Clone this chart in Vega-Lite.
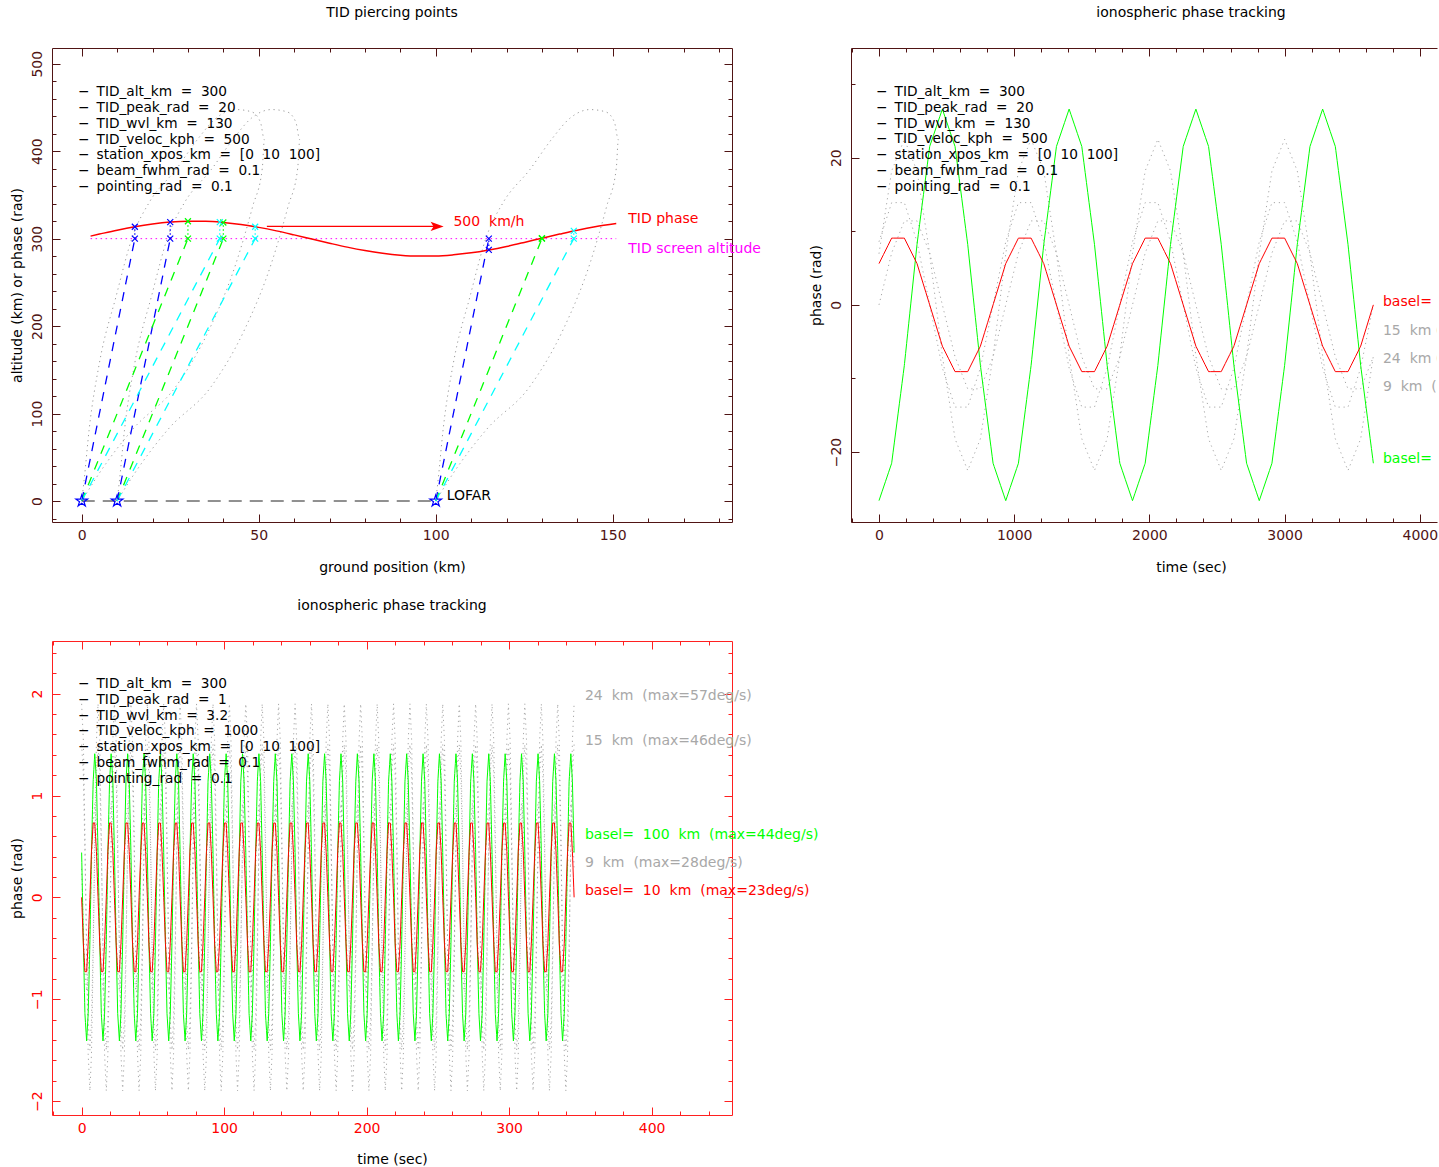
{
"$schema": "https://vega.github.io/schema/vega-lite/v6.json",
"padding": {"left": 10, "top": 5, "right": 0, "bottom": 0},
"background": "white",
"config": {
  "view": {"stroke": null},
  "font": "DejaVu Sans",
  "axis": {"grid": false, "labelFont": "DejaVu Sans", "labelFontSize": 14, "titleFont": "DejaVu Sans", "titleFontSize": 14, "titleFontWeight": "normal", "labelOverlap": false, "labelFlush": false, "tickWidth": 1, "domainWidth": 1, "labelBound": false},
  "title": {"font": "DejaVu Sans", "fontSize": 14, "fontWeight": "normal", "color": "#000000", "offset": 28, "baseline": "alphabetic", "anchor": "middle"},
  "text": {"font": "DejaVu Sans", "fontSize": 14}
},
"columns": 2,
"spacing": {"row": 119, "column": 119},
"bounds": "flush",
"resolve": {"scale": {"color": "independent", "strokeDash": "independent"}},
"concat": [
{
  "width": 680, "height": 474,
  "title": {"text": "TID piercing points"},
  "resolve": {"axis": {"x": "independent", "y": "independent"}},
  "layer": [
    {"data": {"values": [{}]}, "mark": {"type": "point", "opacity": 0},
     "encoding": {
       "x": {"datum": 0, "type": "quantitative", "scale": {"domain": [-8.4, 183.7], "nice": false, "zero": false},
             "axis": {"orient": "bottom", "values": [0,10,20,30,40,50,60,70,80,90,100,110,120,130,140,150,160,170,180], "domain": true, "domainColor": "#501414", "tickColor": "#501414", "tickSize": {"condition": {"test": "datum.value % 50 === 0", "value": -8}, "value": -4}, "labelExpr": "datum.value % 50 === 0 ? format(datum.value, 'd') : ''", "labelColor": "#501414", "labelPadding": 25, "labelBaseline": "alphabetic", "labelAlign": "center", "title": "ground position (km)", "titleColor": "#000000", "titleX": 340, "titleY": 49, "titleBaseline": "alphabetic", "titleAlign": "center"}},
       "y": {"datum": 0, "type": "quantitative", "scale": {"domain": [-24, 518], "nice": false, "zero": false},
             "axis": {"orient": "left", "values": [-20,0,20,40,60,80,100,120,140,160,180,200,220,240,260,280,300,320,340,360,380,400,420,440,460,480,500], "domain": true, "domainColor": "#501414", "tickColor": "#501414", "tickSize": {"condition": {"test": "datum.value % 100 === 0", "value": -8}, "value": -4}, "labelExpr": "datum.value % 100 === 0 ? format(datum.value, 'd') : ''", "labelColor": "#501414", "labelAngle": 270, "labelAlign": "center", "labelBaseline": "middle", "labelPadding": 23, "title": "altitude (km) or phase (rad)", "titleColor": "#000000", "titleX": -31, "titleY": 237, "titleAngle": 270, "titleBaseline": "alphabetic", "titleAlign": "center"}}
     }},
    {"data": {"values": [{}]}, "mark": {"type": "point", "opacity": 0},
     "encoding": {
       "x": {"datum": 0, "type": "quantitative",
             "axis": {"orient": "top", "values": [0,10,20,30,40,50,60,70,80,90,100,110,120,130,140,150,160,170,180], "domain": true, "domainColor": "#501414", "tickColor": "#501414", "tickSize": {"condition": {"test": "datum.value % 50 === 0", "value": -8}, "value": -4}, "labels": false, "title": null}},
       "y": {"datum": 0, "type": "quantitative",
             "axis": {"orient": "right", "values": [-20,0,20,40,60,80,100,120,140,160,180,200,220,240,260,280,300,320,340,360,380,400,420,440,460,480,500], "domain": true, "domainColor": "#501414", "tickColor": "#501414", "tickSize": {"condition": {"test": "datum.value % 100 === 0", "value": -8}, "value": -4}, "labels": false, "title": null}}
     }},
    {"data": {"values": "g,i,x,y\n0,0,0,0\n0,1,0.7,25\n0,2,2.1,82\n0,3,5,158\n0,4,9.7,234\n0,5,14.4,303\n0,6,19,341\n0,7,26.6,379\n0,8,33,415\n0,9,38,438\n0,10,43.6,447.6\n0,11,48,445\n0,12,50.5,433\n0,13,51.6,413\n0,14,51,380\n0,15,48.3,337\n0,16,43.6,272\n0,17,36,196\n0,18,26.6,131\n0,19,14.4,82\n0,20,5,32\n0,21,0,0\n10,0,10,0\n10,1,10.7,25\n10,2,12.1,82\n10,3,15,158\n10,4,19.7,234\n10,5,24.4,303\n10,6,29,341\n10,7,36.6,379\n10,8,43,415\n10,9,48,438\n10,10,53.6,447.6\n10,11,58,445\n10,12,60.5,433\n10,13,61.6,413\n10,14,61,380\n10,15,58.3,337\n10,16,53.6,272\n10,17,46,196\n10,18,36.6,131\n10,19,24.4,82\n10,20,15,32\n10,21,10,0\n100,0,100,0\n100,1,100.7,25\n100,2,102.1,82\n100,3,105,158\n100,4,109.7,234\n100,5,114.4,303\n100,6,119,341\n100,7,126.6,379\n100,8,133,415\n100,9,138,438\n100,10,143.6,447.6\n100,11,148,445\n100,12,150.5,433\n100,13,151.6,413\n100,14,151,380\n100,15,148.3,337\n100,16,143.6,272\n100,17,136,196\n100,18,126.6,131\n100,19,114.4,82\n100,20,105,32\n100,21,100,0", "format": {"type": "csv", "parse": {"g": "number", "i": "number", "x": "number", "y": "number"}}},
     "mark": {"type": "line", "color": "#9a9a9a", "strokeWidth": 1, "strokeDash": [1.2, 3.8], "interpolate": "monotone"},
     "encoding": {"x": {"field": "x", "type": "quantitative", "axis": null}, "y": {"field": "y", "type": "quantitative", "axis": null}, "detail": {"field": "g", "type": "nominal"}, "order": {"field": "i", "type": "quantitative"}}},
    {"data": {"values": "id,c,x,y\nb0,b,0,0\nb0,b,15,300\nb1,b,10,0\nb1,b,25,300\nb2,b,100,0\nb2,b,115,300\ng0,g,0,0\ng0,g,30,300\ng1,g,10,0\ng1,g,40,300\ng2,g,100,0\ng2,g,130,300\nc0,c,0,0\nc0,c,39,300\nc1,c,10,0\nc1,c,49,300\nc2,c,100,0\nc2,c,139,300", "format": {"type": "csv", "parse": {"x": "number", "y": "number"}}},
     "mark": {"type": "line", "strokeWidth": 1.3, "strokeDash": [9, 8]},
     "encoding": {"x": {"field": "x", "type": "quantitative", "axis": null}, "y": {"field": "y", "type": "quantitative", "axis": null}, "detail": {"field": "id", "type": "nominal"}, "color": {"field": "c", "type": "nominal", "scale": {"domain": ["b", "g", "c"], "range": ["#0000ff", "#00ff00", "#00ffff"]}, "legend": null}}},
    {"data": {"values": "id,c,x,y\nb0,b,15,300\nb0,b,15,313.6\nb1,b,25,300\nb1,b,25,318.9\nb2,b,115,300\nb2,b,115,287.1\ng0,g,30,300\ng0,g,30,319.9\ng1,g,40,300\ng1,g,40,318.5\nc0,c,39,300\nc0,c,39,318.9\nc1,c,49,300\nc1,c,49,313.6\nc2,c,139,300\nc2,c,139,308.9", "format": {"type": "csv", "parse": {"x": "number", "y": "number"}}},
     "mark": {"type": "line", "strokeWidth": 1.2, "strokeDash": [1.5, 2.5]},
     "encoding": {"x": {"field": "x", "type": "quantitative", "axis": null}, "y": {"field": "y", "type": "quantitative", "axis": null}, "detail": {"field": "id", "type": "nominal"}, "order": {"field": "y", "type": "quantitative"}, "color": {"field": "c", "type": "nominal", "scale": {"domain": ["b", "g", "c"], "range": ["#0000ff", "#00ff00", "#00ffff"]}, "legend": null}}},
    {"data": {"values": [{"x": 0, "y": 0}, {"x": 100, "y": 0}]},
     "mark": {"type": "line", "color": "#222222", "strokeWidth": 1, "strokeDash": [13, 8]},
     "encoding": {"x": {"field": "x", "type": "quantitative", "axis": null}, "y": {"field": "y", "type": "quantitative", "axis": null}}},
    {"data": {"values": [{"x": 2.5, "y": 300}, {"x": 151, "y": 300}]},
     "mark": {"type": "line", "color": "#ff00ff", "strokeWidth": 1, "strokeDash": [1.5, 3.5]},
     "encoding": {"x": {"field": "x", "type": "quantitative", "axis": null}, "y": {"field": "y", "type": "quantitative", "axis": null}}},
    {"data": {"values": "x,y\n2.5,302.9\n5,305.2\n10,309.7\n15,313.6\n20,316.7\n25,318.9\n30,319.9\n35,319.8\n40,318.5\n45,316.2\n50,312.9\n55,308.9\n60,304.3\n65,299.5\n70,294.8\n75,290.3\n80,286.4\n85,283.3\n90,281.1\n95,280.1\n100,280.2\n105,281.5\n110,283.8\n115,287.1\n120,291.1\n125,295.7\n130,300.5\n135,305.2\n140,309.7\n145,313.6\n151,317.2", "format": {"type": "csv", "parse": {"x": "number", "y": "number"}}},
     "mark": {"type": "line", "color": "#ff0000", "strokeWidth": 1.5, "interpolate": "monotone"},
     "encoding": {"x": {"field": "x", "type": "quantitative", "axis": null}, "y": {"field": "y", "type": "quantitative", "axis": null}}},
    {"data": {"values": [{"x": 52.3, "y": 314}, {"x": 99.5, "y": 314}]},
     "mark": {"type": "line", "color": "#ff0000", "strokeWidth": 1.3},
     "encoding": {"x": {"field": "x", "type": "quantitative", "axis": null}, "y": {"field": "y", "type": "quantitative", "axis": null}}},
    {"data": {"values": [{"x": 100.4, "y": 314}]},
     "mark": {"type": "point", "shape": "M1,0L-1,-0.7L-0.55,0L-1,0.7Z", "filled": true, "color": "#ff0000", "size": 170, "opacity": 1},
     "encoding": {"x": {"field": "x", "type": "quantitative", "axis": null}, "y": {"field": "y", "type": "quantitative", "axis": null}}},
    {"data": {"values": "c,x,y\nb,15,300\nb,15,313.6\nb,25,300\nb,25,318.9\nb,115,300\nb,115,287.1\ng,30,300\ng,30,319.9\ng,40,300\ng,40,318.5\ng,130,300\ng,130,300.5\nc,39,300\nc,39,318.9\nc,49,300\nc,49,313.6\nc,139,300\nc,139,308.9", "format": {"type": "csv", "parse": {"x": "number", "y": "number"}}},
     "mark": {"type": "point", "shape": "M-1,-1L1,1M-1,1L1,-1", "filled": false, "size": 36, "strokeWidth": 1.2, "opacity": 1},
     "encoding": {"x": {"field": "x", "type": "quantitative", "axis": null}, "y": {"field": "y", "type": "quantitative", "axis": null}, "color": {"field": "c", "type": "nominal", "scale": {"domain": ["b", "g", "c"], "range": ["#0000ff", "#00ff00", "#00ffff"]}, "legend": null}}},
    {"data": {"values": [{"x": 0, "y": 0}, {"x": 10, "y": 0}, {"x": 100, "y": 0}]},
     "mark": {"type": "point", "shape": "M0,-1L0.224,-0.309L0.951,-0.309L0.363,0.118L0.588,0.809L0,0.382L-0.588,0.809L-0.363,0.118L-0.951,-0.309L-0.224,-0.309Z", "filled": false, "color": "#0000ff", "size": 150, "strokeWidth": 1.2, "opacity": 1},
     "encoding": {"x": {"field": "x", "type": "quantitative", "axis": null}, "y": {"field": "y", "type": "quantitative", "axis": null}}},
    {"data": {"values": [{}]}, "mark": {"type": "text", "text": "TID phase", "color": "#ff0000", "align": "left", "baseline": "middle", "fontSize": 14},
     "encoding": {"x": {"datum": 154.4, "type": "quantitative", "axis": null}, "y": {"datum": 322, "type": "quantitative", "axis": null}}},
    {"data": {"values": [{}]}, "mark": {"type": "text", "text": "TID screen altitude", "color": "#ff00ff", "align": "left", "baseline": "middle", "fontSize": 14},
     "encoding": {"x": {"datum": 154.4, "type": "quantitative", "axis": null}, "y": {"datum": 287.6, "type": "quantitative", "axis": null}}},
    {"data": {"values": [{}]}, "mark": {"type": "text", "text": "500\u00a0\u00a0km/h", "color": "#ff0000", "align": "left", "baseline": "middle", "fontSize": 14},
     "encoding": {"x": {"datum": 105, "type": "quantitative", "axis": null}, "y": {"datum": 319.2, "type": "quantitative", "axis": null}}},
    {"data": {"values": [{}]}, "mark": {"type": "text", "text": "LOFAR", "color": "#000000", "align": "left", "baseline": "middle", "fontSize": 14},
     "encoding": {"x": {"datum": 103.1, "type": "quantitative", "axis": null}, "y": {"datum": 5.7, "type": "quantitative", "axis": null}}},
    {"data": {"values": [{}]}, "mark": {"type": "text", "text": ["−\u00a0\u2009TID_alt_km\u00a0\u00a0=\u00a0\u00a0300", "−\u00a0\u2009TID_peak_rad\u00a0\u00a0=\u00a0\u00a020", "−\u00a0\u2009TID_wvl_km\u00a0\u00a0=\u00a0\u00a0130", "−\u00a0\u2009TID_veloc_kph\u00a0\u00a0=\u00a0\u00a0500", "−\u00a0\u2009station_xpos_km\u00a0\u00a0=\u00a0\u00a0[0\u00a0\u00a010\u00a0\u00a0100]", "−\u00a0\u2009beam_fwhm_rad\u00a0\u00a0=\u00a0\u00a00.1", "−\u00a0\u2009pointing_rad\u00a0\u00a0=\u00a0\u00a00.1"], "color": "#000000", "align": "left", "baseline": "alphabetic", "fontSize": 13.7, "lineHeight": 15.8},
     "encoding": {"x": {"datum": -1.05, "type": "quantitative", "axis": null}, "y": {"datum": 462.9, "type": "quantitative", "axis": null}}}
  ]
},
{
  "width": 586, "height": 474,
  "title": {"text": "ionospheric phase tracking", "dx": 47},
  "resolve": {"axis": {"x": "independent", "y": "independent"}},
  "layer": [
    {"data": {"values": [{}]}, "mark": {"type": "point", "opacity": 0},
     "encoding": {
       "x": {"datum": 0, "type": "quantitative", "scale": {"domain": [-207, 4127], "nice": false, "zero": false},
             "axis": {"orient": "bottom", "values": [-200,0,200,400,600,800,1000,1200,1400,1600,1800,2000,2200,2400,2600,2800,3000,3200,3400,3600,3800,4000], "domain": true, "domainColor": "#501414", "tickColor": "#501414", "tickSize": {"condition": {"test": "datum.value % 1000 === 0", "value": -8}, "value": -4}, "labelExpr": "datum.value % 1000 === 0 ? format(datum.value, 'd') : ''", "labelColor": "#501414", "labelPadding": 25, "labelBaseline": "alphabetic", "labelAlign": "center", "title": "time (sec)", "titleColor": "#000000", "titleX": 340, "titleY": 49, "titleBaseline": "alphabetic", "titleAlign": "center"}},
       "y": {"datum": 0, "type": "quantitative", "scale": {"domain": [-29.5, 34.9], "nice": false, "zero": false},
             "axis": {"orient": "left", "values": [-20,-10,0,10,20,30], "domain": true, "domainColor": "#501414", "tickColor": "#501414", "tickSize": {"condition": {"test": "datum.value % 20 === 0", "value": -8}, "value": -4}, "labelExpr": "datum.value % 20 === 0 ? format(datum.value, 'd') : ''", "labelColor": "#501414", "labelAngle": 270, "labelAlign": "center", "labelBaseline": "middle", "labelPadding": 23, "title": "phase (rad)", "titleColor": "#000000", "titleX": -31, "titleY": 237, "titleAngle": 270, "titleBaseline": "alphabetic", "titleAlign": "center"}}
     }},
    {"data": {"values": [{}]}, "mark": {"type": "point", "opacity": 0},
     "encoding": {
       "x": {"datum": 0, "type": "quantitative",
             "axis": {"orient": "top", "values": [-200,0,200,400,600,800,1000,1200,1400,1600,1800,2000,2200,2400,2600,2800,3000,3200,3400,3600,3800,4000], "domain": true, "domainColor": "#501414", "tickColor": "#501414", "tickSize": {"condition": {"test": "datum.value % 1000 === 0", "value": -8}, "value": -4}, "labels": false, "title": null}}
     }},
    {"data": {"values": "t,r,g,a,b,c\n0,5.61,-26.6,6.95,8.58,0\n93.75,9.07,-21.52,18.2,13.89,7.05\n187.5,9.07,-8.22,22.5,13.89,11.41\n281.25,5.61,8.22,18.2,8.58,11.41\n375,0,21.52,6.95,0,7.05\n468.75,-5.61,26.6,-6.95,-8.58,0\n562.5,-9.07,21.52,-18.2,-13.89,-7.05\n656.25,-9.07,8.22,-22.5,-13.89,-11.41\n750,-5.61,-8.22,-18.2,-8.58,-11.41\n843.75,0,-21.52,-6.95,0,-7.05\n937.5,5.61,-26.6,6.95,8.58,0\n1031.25,9.07,-21.52,18.2,13.89,7.05\n1125,9.07,-8.22,22.5,13.89,11.41\n1218.75,5.61,8.22,18.2,8.58,11.41\n1312.5,0,21.52,6.95,0,7.05\n1406.25,-5.61,26.6,-6.95,-8.58,0\n1500,-9.07,21.52,-18.2,-13.89,-7.05\n1593.75,-9.07,8.22,-22.5,-13.89,-11.41\n1687.5,-5.61,-8.22,-18.2,-8.58,-11.41\n1781.25,0,-21.52,-6.95,0,-7.05\n1875,5.61,-26.6,6.95,8.58,0\n1968.75,9.07,-21.52,18.2,13.89,7.05\n2062.5,9.07,-8.22,22.5,13.89,11.41\n2156.25,5.61,8.22,18.2,8.58,11.41\n2250,0,21.52,6.95,0,7.05\n2343.75,-5.61,26.6,-6.95,-8.58,0\n2437.5,-9.07,21.52,-18.2,-13.89,-7.05\n2531.25,-9.07,8.22,-22.5,-13.89,-11.41\n2625,-5.61,-8.22,-18.2,-8.58,-11.41\n2718.75,0,-21.52,-6.95,0,-7.05\n2812.5,5.61,-26.6,6.95,8.58,0\n2906.25,9.07,-21.52,18.2,13.89,7.05\n3000,9.07,-8.22,22.5,13.89,11.41\n3093.75,5.61,8.22,18.2,8.58,11.41\n3187.5,0,21.52,6.95,0,7.05\n3281.25,-5.61,26.6,-6.95,-8.58,0\n3375,-9.07,21.52,-18.2,-13.89,-7.05\n3468.75,-9.07,8.22,-22.5,-13.89,-11.41\n3562.5,-5.61,-8.22,-18.2,-8.58,-11.41\n3656.25,0,-21.52,-6.95,0,-7.05", "format": {"type": "csv", "parse": {"t": "number", "r": "number", "g": "number", "a": "number", "b": "number", "c": "number"}}},
     "transform": [{"fold": ["a", "b", "c", "g", "r"], "as": ["s", "v"]}],
     "mark": {"type": "line", "strokeWidth": 1, "clip": true},
     "encoding": {"x": {"field": "t", "type": "quantitative", "axis": null}, "y": {"field": "v", "type": "quantitative", "axis": null},
       "color": {"field": "s", "type": "nominal", "scale": {"domain": ["a", "b", "c", "g", "r"], "range": ["#a8a8a8", "#a8a8a8", "#a8a8a8", "#00ff00", "#ff0000"]}, "legend": null},
       "strokeDash": {"field": "s", "type": "nominal", "scale": {"domain": ["a", "b", "c", "g", "r"], "range": [[1.2, 3.8], [1.2, 3.8], [1.2, 3.8], [10, 0], [10, 0]]}, "legend": null}}},
    {"data": {"values": [{"s": "r", "label": "basel=\u00a0\u00a010\u00a0\u00a0km\u00a0\u00a0(max=4deg/s)", "v": 0.41}, {"s": "b", "label": "15\u00a0\u00a0km\u00a0(max=5deg/s)", "v": -3.53}, {"s": "a", "label": "24\u00a0\u00a0km\u00a0(max=8deg/s)", "v": -7.33}, {"s": "c", "label": "9\u00a0\u00a0km\u00a0\u00a0(max=4deg/s)", "v": -11.13}, {"s": "g", "label": "basel=\u00a0\u00a0100\u00a0\u00a0km\u00a0\u00a0(max=10deg/s)", "v": -20.9}]},
     "mark": {"type": "text", "align": "left", "baseline": "middle", "fontSize": 14, "clip": true},
     "encoding": {"x": {"datum": 3727, "type": "quantitative", "axis": null}, "y": {"field": "v", "type": "quantitative", "axis": null}, "text": {"field": "label"},
       "color": {"field": "s", "type": "nominal", "scale": {"domain": ["a", "b", "c", "g", "r"], "range": ["#a8a8a8", "#a8a8a8", "#a8a8a8", "#00ff00", "#ff0000"]}, "legend": null}}},
    {"data": {"values": [{}]}, "mark": {"type": "text", "text": ["−\u00a0\u2009TID_alt_km\u00a0\u00a0=\u00a0\u00a0300", "−\u00a0\u2009TID_peak_rad\u00a0\u00a0=\u00a0\u00a020", "−\u00a0\u2009TID_wvl_km\u00a0\u00a0=\u00a0\u00a0130", "−\u00a0\u2009TID_veloc_kph\u00a0\u00a0=\u00a0\u00a0500", "−\u00a0\u2009station_xpos_km\u00a0\u00a0=\u00a0\u00a0[0\u00a0\u00a010\u00a0\u00a0100]", "−\u00a0\u2009beam_fwhm_rad\u00a0\u00a0=\u00a0\u00a00.1", "−\u00a0\u2009pointing_rad\u00a0\u00a0=\u00a0\u00a00.1"], "color": "#000000", "align": "left", "baseline": "alphabetic", "fontSize": 13.7, "lineHeight": 15.8},
     "encoding": {"x": {"datum": -22, "type": "quantitative", "axis": null}, "y": {"datum": 28.38, "type": "quantitative", "axis": null}}}
  ]
},
{
  "width": 680, "height": 474,
  "title": {"text": "ionospheric phase tracking"},
  "resolve": {"axis": {"x": "independent", "y": "independent"}},
  "layer": [
    {"data": {"values": [{}]}, "mark": {"type": "point", "opacity": 0},
     "encoding": {
       "x": {"datum": 0, "type": "quantitative", "scale": {"domain": [-20.8, 456.4], "nice": false, "zero": false},
             "axis": {"orient": "bottom", "values": [-20,0,20,40,60,80,100,120,140,160,180,200,220,240,260,280,300,320,340,360,380,400,420,440], "domain": true, "domainColor": "#ff2020", "tickColor": "#ff2020", "tickSize": {"condition": {"test": "datum.value % 100 === 0", "value": -8}, "value": -4}, "labelExpr": "datum.value % 100 === 0 ? format(datum.value, 'd') : ''", "labelColor": "#ff0000", "labelPadding": 25, "labelBaseline": "alphabetic", "labelAlign": "center", "title": "time (sec)", "titleColor": "#000000", "titleX": 340, "titleY": 48, "titleBaseline": "alphabetic", "titleAlign": "center"}},
       "y": {"datum": 0, "type": "quantitative", "scale": {"domain": [-2.137, 2.517], "nice": false, "zero": false},
             "axis": {"orient": "left", "values": [-2,-1.8,-1.6,-1.4,-1.2,-1,-0.8,-0.6,-0.4,-0.2,0,0.2,0.4,0.6,0.8,1,1.2,1.4,1.6,1.8,2,2.2,2.4], "domain": true, "domainColor": "#ff2020", "tickColor": "#ff2020", "tickSize": {"condition": {"test": "abs(datum.value - round(datum.value)) < 0.001", "value": -8}, "value": -4}, "labelExpr": "abs(datum.value - round(datum.value)) < 0.001 ? format(round(datum.value), 'd') : ''", "labelColor": "#ff0000", "labelAngle": 270, "labelAlign": "center", "labelBaseline": "middle", "labelPadding": 23, "title": "phase (rad)", "titleColor": "#000000", "titleX": -31, "titleY": 237, "titleAngle": 270, "titleBaseline": "alphabetic", "titleAlign": "center"}}
     }},
    {"data": {"values": [{}]}, "mark": {"type": "point", "opacity": 0},
     "encoding": {
       "x": {"datum": 0, "type": "quantitative",
             "axis": {"orient": "top", "values": [-20,0,20,40,60,80,100,120,140,160,180,200,220,240,260,280,300,320,340,360,380,400,420,440], "domain": true, "domainColor": "#ff2020", "tickColor": "#ff2020", "tickSize": {"condition": {"test": "datum.value % 100 === 0", "value": -8}, "value": -4}, "labels": false, "title": null}},
       "y": {"datum": 0, "type": "quantitative",
             "axis": {"orient": "right", "values": [-2,-1.8,-1.6,-1.4,-1.2,-1,-0.8,-0.6,-0.4,-0.2,0,0.2,0.4,0.6,0.8,1,1.2,1.4,1.6,1.8,2,2.2,2.4], "domain": true, "domainColor": "#ff2020", "tickColor": "#ff2020", "tickSize": {"condition": {"test": "abs(datum.value - round(datum.value)) < 0.001", "value": -8}, "value": -4}, "labels": false, "title": null}}
     }},
    {"data": {"values": "t,r,g,a,b,c\n0,0,0.44,1.9,1.5,0.28\n1.2,-0.45,-0.44,1.54,1.21,-0.28\n2.3,-0.73,-1.14,0.59,0.46,-0.74\n3.5,-0.73,-1.41,-0.59,-0.46,-0.92\n4.6,-0.45,-1.14,-1.54,-1.21,-0.74\n5.8,0,-0.44,-1.9,-1.5,-0.28\n6.9,0.45,0.44,-1.54,-1.21,0.28\n8.1,0.73,1.14,-0.59,-0.46,0.74\n9.2,0.73,1.41,0.59,0.46,0.92\n10.4,0.45,1.14,1.54,1.21,0.74\n11.5,0,0.44,1.9,1.5,0.28\n12.7,-0.45,-0.44,1.54,1.21,-0.28\n13.8,-0.73,-1.14,0.59,0.46,-0.74\n15,-0.73,-1.41,-0.59,-0.46,-0.92\n16.1,-0.45,-1.14,-1.54,-1.21,-0.74\n17.3,0,-0.44,-1.9,-1.5,-0.28\n18.4,0.45,0.44,-1.54,-1.21,0.28\n19.6,0.73,1.14,-0.59,-0.46,0.74\n20.7,0.73,1.41,0.59,0.46,0.92\n21.9,0.45,1.14,1.54,1.21,0.74\n23,0,0.44,1.9,1.5,0.28\n24.2,-0.45,-0.44,1.54,1.21,-0.28\n25.3,-0.73,-1.14,0.59,0.46,-0.74\n26.5,-0.73,-1.41,-0.59,-0.46,-0.92\n27.6,-0.45,-1.14,-1.54,-1.21,-0.74\n28.8,0,-0.44,-1.9,-1.5,-0.28\n30,0.45,0.44,-1.54,-1.21,0.28\n31.1,0.73,1.14,-0.59,-0.46,0.74\n32.3,0.73,1.41,0.59,0.46,0.92\n33.4,0.45,1.14,1.54,1.21,0.74\n34.6,0,0.44,1.9,1.5,0.28\n35.7,-0.45,-0.44,1.54,1.21,-0.28\n36.9,-0.73,-1.14,0.59,0.46,-0.74\n38,-0.73,-1.41,-0.59,-0.46,-0.92\n39.2,-0.45,-1.14,-1.54,-1.21,-0.74\n40.3,0,-0.44,-1.9,-1.5,-0.28\n41.5,0.45,0.44,-1.54,-1.21,0.28\n42.6,0.73,1.14,-0.59,-0.46,0.74\n43.8,0.73,1.41,0.59,0.46,0.92\n44.9,0.45,1.14,1.54,1.21,0.74\n46.1,0,0.44,1.9,1.5,0.28\n47.2,-0.45,-0.44,1.54,1.21,-0.28\n48.4,-0.73,-1.14,0.59,0.46,-0.74\n49.5,-0.73,-1.41,-0.59,-0.46,-0.92\n50.7,-0.45,-1.14,-1.54,-1.21,-0.74\n51.8,0,-0.44,-1.9,-1.5,-0.28\n53,0.45,0.44,-1.54,-1.21,0.28\n54.1,0.73,1.14,-0.59,-0.46,0.74\n55.3,0.73,1.41,0.59,0.46,0.92\n56.4,0.45,1.14,1.54,1.21,0.74\n57.6,0,0.44,1.9,1.5,0.28\n58.8,-0.45,-0.44,1.54,1.21,-0.28\n59.9,-0.73,-1.14,0.59,0.46,-0.74\n61.1,-0.73,-1.41,-0.59,-0.46,-0.92\n62.2,-0.45,-1.14,-1.54,-1.21,-0.74\n63.4,0,-0.44,-1.9,-1.5,-0.28\n64.5,0.45,0.44,-1.54,-1.21,0.28\n65.7,0.73,1.14,-0.59,-0.46,0.74\n66.8,0.73,1.41,0.59,0.46,0.92\n68,0.45,1.14,1.54,1.21,0.74\n69.1,0,0.44,1.9,1.5,0.28\n70.3,-0.45,-0.44,1.54,1.21,-0.28\n71.4,-0.73,-1.14,0.59,0.46,-0.74\n72.6,-0.73,-1.41,-0.59,-0.46,-0.92\n73.7,-0.45,-1.14,-1.54,-1.21,-0.74\n74.9,0,-0.44,-1.9,-1.5,-0.28\n76,0.45,0.44,-1.54,-1.21,0.28\n77.2,0.73,1.14,-0.59,-0.46,0.74\n78.3,0.73,1.41,0.59,0.46,0.92\n79.5,0.45,1.14,1.54,1.21,0.74\n80.6,0,0.44,1.9,1.5,0.28\n81.8,-0.45,-0.44,1.54,1.21,-0.28\n82.9,-0.73,-1.14,0.59,0.46,-0.74\n84.1,-0.73,-1.41,-0.59,-0.46,-0.92\n85.2,-0.45,-1.14,-1.54,-1.21,-0.74\n86.4,0,-0.44,-1.9,-1.5,-0.28\n87.6,0.45,0.44,-1.54,-1.21,0.28\n88.7,0.73,1.14,-0.59,-0.46,0.74\n89.9,0.73,1.41,0.59,0.46,0.92\n91,0.45,1.14,1.54,1.21,0.74\n92.2,0,0.44,1.9,1.5,0.28\n93.3,-0.45,-0.44,1.54,1.21,-0.28\n94.5,-0.73,-1.14,0.59,0.46,-0.74\n95.6,-0.73,-1.41,-0.59,-0.46,-0.92\n96.8,-0.45,-1.14,-1.54,-1.21,-0.74\n97.9,0,-0.44,-1.9,-1.5,-0.28\n99.1,0.45,0.44,-1.54,-1.21,0.28\n100.2,0.73,1.14,-0.59,-0.46,0.74\n101.4,0.73,1.41,0.59,0.46,0.92\n102.5,0.45,1.14,1.54,1.21,0.74\n103.7,0,0.44,1.9,1.5,0.28\n104.8,-0.45,-0.44,1.54,1.21,-0.28\n106,-0.73,-1.14,0.59,0.46,-0.74\n107.1,-0.73,-1.41,-0.59,-0.46,-0.92\n108.3,-0.45,-1.14,-1.54,-1.21,-0.74\n109.4,0,-0.44,-1.9,-1.5,-0.28\n110.6,0.45,0.44,-1.54,-1.21,0.28\n111.7,0.73,1.14,-0.59,-0.46,0.74\n112.9,0.73,1.41,0.59,0.46,0.92\n114,0.45,1.14,1.54,1.21,0.74\n115.2,0,0.44,1.9,1.5,0.28\n116.4,-0.45,-0.44,1.54,1.21,-0.28\n117.5,-0.73,-1.14,0.59,0.46,-0.74\n118.7,-0.73,-1.41,-0.59,-0.46,-0.92\n119.8,-0.45,-1.14,-1.54,-1.21,-0.74\n121,0,-0.44,-1.9,-1.5,-0.28\n122.1,0.45,0.44,-1.54,-1.21,0.28\n123.3,0.73,1.14,-0.59,-0.46,0.74\n124.4,0.73,1.41,0.59,0.46,0.92\n125.6,0.45,1.14,1.54,1.21,0.74\n126.7,0,0.44,1.9,1.5,0.28\n127.9,-0.45,-0.44,1.54,1.21,-0.28\n129,-0.73,-1.14,0.59,0.46,-0.74\n130.2,-0.73,-1.41,-0.59,-0.46,-0.92\n131.3,-0.45,-1.14,-1.54,-1.21,-0.74\n132.5,0,-0.44,-1.9,-1.5,-0.28\n133.6,0.45,0.44,-1.54,-1.21,0.28\n134.8,0.73,1.14,-0.59,-0.46,0.74\n135.9,0.73,1.41,0.59,0.46,0.92\n137.1,0.45,1.14,1.54,1.21,0.74\n138.2,0,0.44,1.9,1.5,0.28\n139.4,-0.45,-0.44,1.54,1.21,-0.28\n140.5,-0.73,-1.14,0.59,0.46,-0.74\n141.7,-0.73,-1.41,-0.59,-0.46,-0.92\n142.8,-0.45,-1.14,-1.54,-1.21,-0.74\n144,0,-0.44,-1.9,-1.5,-0.28\n145.2,0.45,0.44,-1.54,-1.21,0.28\n146.3,0.73,1.14,-0.59,-0.46,0.74\n147.5,0.73,1.41,0.59,0.46,0.92\n148.6,0.45,1.14,1.54,1.21,0.74\n149.8,0,0.44,1.9,1.5,0.28\n150.9,-0.45,-0.44,1.54,1.21,-0.28\n152.1,-0.73,-1.14,0.59,0.46,-0.74\n153.2,-0.73,-1.41,-0.59,-0.46,-0.92\n154.4,-0.45,-1.14,-1.54,-1.21,-0.74\n155.5,0,-0.44,-1.9,-1.5,-0.28\n156.7,0.45,0.44,-1.54,-1.21,0.28\n157.8,0.73,1.14,-0.59,-0.46,0.74\n159,0.73,1.41,0.59,0.46,0.92\n160.1,0.45,1.14,1.54,1.21,0.74\n161.3,0,0.44,1.9,1.5,0.28\n162.4,-0.45,-0.44,1.54,1.21,-0.28\n163.6,-0.73,-1.14,0.59,0.46,-0.74\n164.7,-0.73,-1.41,-0.59,-0.46,-0.92\n165.9,-0.45,-1.14,-1.54,-1.21,-0.74\n167,0,-0.44,-1.9,-1.5,-0.28\n168.2,0.45,0.44,-1.54,-1.21,0.28\n169.3,0.73,1.14,-0.59,-0.46,0.74\n170.5,0.73,1.41,0.59,0.46,0.92\n171.6,0.45,1.14,1.54,1.21,0.74\n172.8,0,0.44,1.9,1.5,0.28\n174,-0.45,-0.44,1.54,1.21,-0.28\n175.1,-0.73,-1.14,0.59,0.46,-0.74\n176.3,-0.73,-1.41,-0.59,-0.46,-0.92\n177.4,-0.45,-1.14,-1.54,-1.21,-0.74\n178.6,0,-0.44,-1.9,-1.5,-0.28\n179.7,0.45,0.44,-1.54,-1.21,0.28\n180.9,0.73,1.14,-0.59,-0.46,0.74\n182,0.73,1.41,0.59,0.46,0.92\n183.2,0.45,1.14,1.54,1.21,0.74\n184.3,0,0.44,1.9,1.5,0.28\n185.5,-0.45,-0.44,1.54,1.21,-0.28\n186.6,-0.73,-1.14,0.59,0.46,-0.74\n187.8,-0.73,-1.41,-0.59,-0.46,-0.92\n188.9,-0.45,-1.14,-1.54,-1.21,-0.74\n190.1,0,-0.44,-1.9,-1.5,-0.28\n191.2,0.45,0.44,-1.54,-1.21,0.28\n192.4,0.73,1.14,-0.59,-0.46,0.74\n193.5,0.73,1.41,0.59,0.46,0.92\n194.7,0.45,1.14,1.54,1.21,0.74\n195.8,0,0.44,1.9,1.5,0.28\n197,-0.45,-0.44,1.54,1.21,-0.28\n198.1,-0.73,-1.14,0.59,0.46,-0.74\n199.3,-0.73,-1.41,-0.59,-0.46,-0.92\n200.4,-0.45,-1.14,-1.54,-1.21,-0.74\n201.6,0,-0.44,-1.9,-1.5,-0.28\n202.8,0.45,0.44,-1.54,-1.21,0.28\n203.9,0.73,1.14,-0.59,-0.46,0.74\n205.1,0.73,1.41,0.59,0.46,0.92\n206.2,0.45,1.14,1.54,1.21,0.74\n207.4,0,0.44,1.9,1.5,0.28\n208.5,-0.45,-0.44,1.54,1.21,-0.28\n209.7,-0.73,-1.14,0.59,0.46,-0.74\n210.8,-0.73,-1.41,-0.59,-0.46,-0.92\n212,-0.45,-1.14,-1.54,-1.21,-0.74\n213.1,0,-0.44,-1.9,-1.5,-0.28\n214.3,0.45,0.44,-1.54,-1.21,0.28\n215.4,0.73,1.14,-0.59,-0.46,0.74\n216.6,0.73,1.41,0.59,0.46,0.92\n217.7,0.45,1.14,1.54,1.21,0.74\n218.9,0,0.44,1.9,1.5,0.28\n220,-0.45,-0.44,1.54,1.21,-0.28\n221.2,-0.73,-1.14,0.59,0.46,-0.74\n222.3,-0.73,-1.41,-0.59,-0.46,-0.92\n223.5,-0.45,-1.14,-1.54,-1.21,-0.74\n224.6,0,-0.44,-1.9,-1.5,-0.28\n225.8,0.45,0.44,-1.54,-1.21,0.28\n226.9,0.73,1.14,-0.59,-0.46,0.74\n228.1,0.73,1.41,0.59,0.46,0.92\n229.2,0.45,1.14,1.54,1.21,0.74\n230.4,0,0.44,1.9,1.5,0.28\n231.6,-0.45,-0.44,1.54,1.21,-0.28\n232.7,-0.73,-1.14,0.59,0.46,-0.74\n233.9,-0.73,-1.41,-0.59,-0.46,-0.92\n235,-0.45,-1.14,-1.54,-1.21,-0.74\n236.2,0,-0.44,-1.9,-1.5,-0.28\n237.3,0.45,0.44,-1.54,-1.21,0.28\n238.5,0.73,1.14,-0.59,-0.46,0.74\n239.6,0.73,1.41,0.59,0.46,0.92\n240.8,0.45,1.14,1.54,1.21,0.74\n241.9,0,0.44,1.9,1.5,0.28\n243.1,-0.45,-0.44,1.54,1.21,-0.28\n244.2,-0.73,-1.14,0.59,0.46,-0.74\n245.4,-0.73,-1.41,-0.59,-0.46,-0.92\n246.5,-0.45,-1.14,-1.54,-1.21,-0.74\n247.7,0,-0.44,-1.9,-1.5,-0.28\n248.8,0.45,0.44,-1.54,-1.21,0.28\n250,0.73,1.14,-0.59,-0.46,0.74\n251.1,0.73,1.41,0.59,0.46,0.92\n252.3,0.45,1.14,1.54,1.21,0.74\n253.4,0,0.44,1.9,1.5,0.28\n254.6,-0.45,-0.44,1.54,1.21,-0.28\n255.7,-0.73,-1.14,0.59,0.46,-0.74\n256.9,-0.73,-1.41,-0.59,-0.46,-0.92\n258,-0.45,-1.14,-1.54,-1.21,-0.74\n259.2,0,-0.44,-1.9,-1.5,-0.28\n260.4,0.45,0.44,-1.54,-1.21,0.28\n261.5,0.73,1.14,-0.59,-0.46,0.74\n262.7,0.73,1.41,0.59,0.46,0.92\n263.8,0.45,1.14,1.54,1.21,0.74\n265,0,0.44,1.9,1.5,0.28\n266.1,-0.45,-0.44,1.54,1.21,-0.28\n267.3,-0.73,-1.14,0.59,0.46,-0.74\n268.4,-0.73,-1.41,-0.59,-0.46,-0.92\n269.6,-0.45,-1.14,-1.54,-1.21,-0.74\n270.7,0,-0.44,-1.9,-1.5,-0.28\n271.9,0.45,0.44,-1.54,-1.21,0.28\n273,0.73,1.14,-0.59,-0.46,0.74\n274.2,0.73,1.41,0.59,0.46,0.92\n275.3,0.45,1.14,1.54,1.21,0.74\n276.5,0,0.44,1.9,1.5,0.28\n277.6,-0.45,-0.44,1.54,1.21,-0.28\n278.8,-0.73,-1.14,0.59,0.46,-0.74\n279.9,-0.73,-1.41,-0.59,-0.46,-0.92\n281.1,-0.45,-1.14,-1.54,-1.21,-0.74\n282.2,0,-0.44,-1.9,-1.5,-0.28\n283.4,0.45,0.44,-1.54,-1.21,0.28\n284.5,0.73,1.14,-0.59,-0.46,0.74\n285.7,0.73,1.41,0.59,0.46,0.92\n286.8,0.45,1.14,1.54,1.21,0.74\n288,0,0.44,1.9,1.5,0.28\n289.2,-0.45,-0.44,1.54,1.21,-0.28\n290.3,-0.73,-1.14,0.59,0.46,-0.74\n291.5,-0.73,-1.41,-0.59,-0.46,-0.92\n292.6,-0.45,-1.14,-1.54,-1.21,-0.74\n293.8,0,-0.44,-1.9,-1.5,-0.28\n294.9,0.45,0.44,-1.54,-1.21,0.28\n296.1,0.73,1.14,-0.59,-0.46,0.74\n297.2,0.73,1.41,0.59,0.46,0.92\n298.4,0.45,1.14,1.54,1.21,0.74\n299.5,0,0.44,1.9,1.5,0.28\n300.7,-0.45,-0.44,1.54,1.21,-0.28\n301.8,-0.73,-1.14,0.59,0.46,-0.74\n303,-0.73,-1.41,-0.59,-0.46,-0.92\n304.1,-0.45,-1.14,-1.54,-1.21,-0.74\n305.3,0,-0.44,-1.9,-1.5,-0.28\n306.4,0.45,0.44,-1.54,-1.21,0.28\n307.6,0.73,1.14,-0.59,-0.46,0.74\n308.7,0.73,1.41,0.59,0.46,0.92\n309.9,0.45,1.14,1.54,1.21,0.74\n311,0,0.44,1.9,1.5,0.28\n312.2,-0.45,-0.44,1.54,1.21,-0.28\n313.3,-0.73,-1.14,0.59,0.46,-0.74\n314.5,-0.73,-1.41,-0.59,-0.46,-0.92\n315.6,-0.45,-1.14,-1.54,-1.21,-0.74\n316.8,0,-0.44,-1.9,-1.5,-0.28\n318,0.45,0.44,-1.54,-1.21,0.28\n319.1,0.73,1.14,-0.59,-0.46,0.74\n320.3,0.73,1.41,0.59,0.46,0.92\n321.4,0.45,1.14,1.54,1.21,0.74\n322.6,0,0.44,1.9,1.5,0.28\n323.7,-0.45,-0.44,1.54,1.21,-0.28\n324.9,-0.73,-1.14,0.59,0.46,-0.74\n326,-0.73,-1.41,-0.59,-0.46,-0.92\n327.2,-0.45,-1.14,-1.54,-1.21,-0.74\n328.3,0,-0.44,-1.9,-1.5,-0.28\n329.5,0.45,0.44,-1.54,-1.21,0.28\n330.6,0.73,1.14,-0.59,-0.46,0.74\n331.8,0.73,1.41,0.59,0.46,0.92\n332.9,0.45,1.14,1.54,1.21,0.74\n334.1,0,0.44,1.9,1.5,0.28\n335.2,-0.45,-0.44,1.54,1.21,-0.28\n336.4,-0.73,-1.14,0.59,0.46,-0.74\n337.5,-0.73,-1.41,-0.59,-0.46,-0.92\n338.7,-0.45,-1.14,-1.54,-1.21,-0.74\n339.8,0,-0.44,-1.9,-1.5,-0.28\n341,0.45,0.44,-1.54,-1.21,0.28\n342.1,0.73,1.14,-0.59,-0.46,0.74\n343.3,0.73,1.41,0.59,0.46,0.92\n344.4,0.45,1.14,1.54,1.21,0.74\n345.6,0,0.44,1.9,1.5,0.28", "format": {"type": "csv", "parse": {"t": "number", "r": "number", "g": "number", "a": "number", "b": "number", "c": "number"}}},
     "transform": [{"fold": ["a", "b", "c", "g", "r"], "as": ["s", "v"]}],
     "mark": {"type": "line", "strokeWidth": 1, "clip": true},
     "encoding": {"x": {"field": "t", "type": "quantitative", "axis": null}, "y": {"field": "v", "type": "quantitative", "axis": null},
       "color": {"field": "s", "type": "nominal", "scale": {"domain": ["a", "b", "c", "g", "r"], "range": ["#a8a8a8", "#a8a8a8", "#a8a8a8", "#00ff00", "#ff0000"]}, "legend": null},
       "strokeDash": {"field": "s", "type": "nominal", "scale": {"domain": ["a", "b", "c", "g", "r"], "range": [[1.2, 3.8], [1.2, 3.8], [1.2, 3.8], [10, 0], [10, 0]]}, "legend": null}}},
    {"data": {"values": [{"s": "a", "label": "24\u00a0\u00a0km\u00a0\u00a0(max=57deg/s)", "v": 1.973}, {"s": "b", "label": "15\u00a0\u00a0km\u00a0\u00a0(max=46deg/s)", "v": 1.531}, {"s": "g", "label": "basel=\u00a0\u00a0100\u00a0\u00a0km\u00a0\u00a0(max=44deg/s)", "v": 0.617}, {"s": "c", "label": "9\u00a0\u00a0km\u00a0\u00a0(max=28deg/s)", "v": 0.342}, {"s": "r", "label": "basel=\u00a0\u00a010\u00a0\u00a0km\u00a0\u00a0(max=23deg/s)", "v": 0.066}]},
     "mark": {"type": "text", "align": "left", "baseline": "middle", "fontSize": 14},
     "encoding": {"x": {"datum": 353.2, "type": "quantitative", "axis": null}, "y": {"field": "v", "type": "quantitative", "axis": null}, "text": {"field": "label"},
       "color": {"field": "s", "type": "nominal", "scale": {"domain": ["a", "b", "c", "g", "r"], "range": ["#a8a8a8", "#a8a8a8", "#a8a8a8", "#00ff00", "#ff0000"]}, "legend": null}}},
    {"data": {"values": [{}]}, "mark": {"type": "text", "text": ["−\u00a0\u2009TID_alt_km\u00a0\u00a0=\u00a0\u00a0300", "−\u00a0\u2009TID_peak_rad\u00a0\u00a0=\u00a0\u00a01", "−\u00a0\u2009TID_wvl_km\u00a0\u00a0=\u00a0\u00a03.2", "−\u00a0\u2009TID_veloc_kph\u00a0\u00a0=\u00a0\u00a01000", "−\u00a0\u2009station_xpos_km\u00a0\u00a0=\u00a0\u00a0[0\u00a0\u00a010\u00a0\u00a0100]", "−\u00a0\u2009beam_fwhm_rad\u00a0\u00a0=\u00a0\u00a00.1", "−\u00a0\u2009pointing_rad\u00a0\u00a0=\u00a0\u00a00.1"], "color": "#000000", "align": "left", "baseline": "alphabetic", "fontSize": 13.7, "lineHeight": 15.8},
     "encoding": {"x": {"datum": -2.6, "type": "quantitative", "axis": null}, "y": {"datum": 2.056, "type": "quantitative", "axis": null}}}
  ]
}
]
}
